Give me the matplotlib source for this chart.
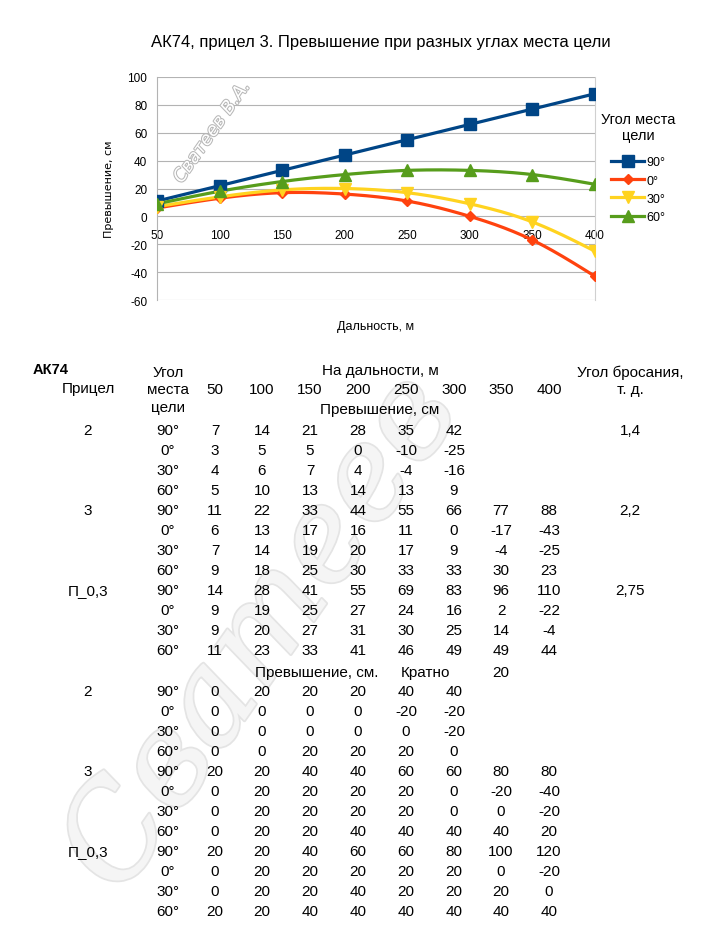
import numpy as np
import matplotlib
matplotlib.use("Agg")
import matplotlib.pyplot as plt
import matplotlib.patheffects as pe

plt.rcParams['font.family'] = ['Liberation Sans Narrow', 'Liberation Sans', 'DejaVu Sans']
plt.rcParams['axes.unicode_minus'] = False

# chart data: sight 3
dist = [50, 100, 150, 200, 250, 300, 350, 400]
angles = ["90°", "0°", "30°", "60°"]
h90 = [11, 22, 33, 44, 55, 66, 77, 88]
h0 = [6, 13, 17, 16, 11, 0, -17, -43]
h30 = [7, 14, 19, 20, 17, 9, -4, -25]
h60 = [9, 18, 25, 30, 33, 33, 30, 23]

# table: elevation, cm
sights = ["2", "3", "П_0,3"]
throw_angle = ["1,4", "2,2", "2,75"]
tab_s2 = [[7, 14, 21, 28, 35, 42],
          [3, 5, 5, 0, -10, -25],
          [4, 6, 7, 4, -4, -16],
          [5, 10, 13, 14, 13, 9]]
tab_s3 = [h90, h0, h30, h60]
tab_p = [[14, 28, 41, 55, 69, 83, 96, 110],
         [9, 19, 25, 27, 24, 16, 2, -22],
         [9, 20, 27, 31, 30, 25, 14, -4],
         [11, 23, 33, 41, 46, 49, 49, 44]]
# table: multiple of 20
k_s2 = [[0, 20, 20, 20, 40, 40],
        [0, 0, 0, 0, -20, -20],
        [0, 0, 0, 0, 0, -20],
        [0, 0, 20, 20, 20, 0]]
k_s3 = [[20, 20, 40, 40, 60, 60, 80, 80],
        [0, 20, 20, 20, 20, 0, -20, -40],
        [0, 20, 20, 20, 20, 0, 0, -20],
        [0, 20, 20, 40, 40, 40, 40, 20]]
k_p = [[20, 20, 40, 60, 60, 80, 100, 120],
       [0, 20, 20, 20, 20, 20, 0, -20],
       [0, 20, 20, 40, 20, 20, 20, 0],
       [20, 20, 40, 40, 40, 40, 40, 40]]


def spline(x, y, n=300):
    x = np.asarray(x, float)
    y = np.asarray(y, float)
    m = len(x)
    h = np.diff(x)
    A = np.zeros((m, m))
    b = np.zeros(m)
    A[0, 0] = A[-1, -1] = 1
    for i in range(1, m - 1):
        A[i, i - 1] = h[i - 1]
        A[i, i] = 2 * (h[i - 1] + h[i])
        A[i, i + 1] = h[i]
        b[i] = 6 * ((y[i + 1] - y[i]) / h[i] - (y[i] - y[i - 1]) / h[i - 1])
    M = np.linalg.solve(A, b)
    xs = np.linspace(x[0], x[-1], n)
    idx = np.clip(np.searchsorted(x, xs) - 1, 0, m - 2)
    x0, x1 = x[idx], x[idx + 1]
    hh = x1 - x0
    a = (x1 - xs) / hh
    c = (xs - x0) / hh
    ys = a * y[idx] + c * y[idx + 1] + ((a ** 3 - a) * M[idx] + (c ** 3 - c) * M[idx + 1]) * hh ** 2 / 6
    return xs, ys


W, H = 718, 945
fig = plt.figure(figsize=(W / 100, H / 100), dpi=100)


def px(x, y):
    return x / W, 1 - y / H


# big watermark behind the table
fig.text(*px(262, 635), "Сватеев", fontsize=92, rotation=55, style='italic',
         family='DejaVu Serif', color='#f5f5f5', ha='center', va='center', zorder=0,
         path_effects=[pe.withStroke(linewidth=2.5, foreground='#e4e4e4')])

ax = fig.add_axes([157 / W, 1 - 301 / H, (595 - 157) / W, (301 - 78) / H])
ax.set_xlim(50, 400)
ax.set_ylim(-60, 100)
ax.set_yticks(range(-60, 101, 20))
ax.set_xticks(dist)
ax.yaxis.grid(True, color='#b3b3b3', lw=0.8)
ax.set_axisbelow(True)
ax.spines['top'].set_visible(False)
ax.spines['bottom'].set_position(('data', 0))
ax.spines['bottom'].set_visible(False)
ax.spines['left'].set_color('#b3b3b3')
ax.spines['right'].set_color('#d0d0d0')
ax.tick_params(length=0, labelsize=8.5)
ax.tick_params(axis='y', pad=7)
ax.tick_params(axis='x', pad=9)

series = [h90, h0, h30, h60]
colors = ['#004586', '#ff420e', '#ffd320', '#579d1c']
markers = ['s', 'D', 'v', '^']
msizes = [8, 5.5, 8, 8]
for vals, col, mk, ms, lab in zip(series, colors, markers, msizes, angles):
    xs, ys = spline(dist, vals)
    ax.plot(xs, ys, color=col, lw=2.3, zorder=3)
    ax.plot(dist, vals, ls='none', marker=mk, ms=ms, color=col, zorder=4)
    ax.plot([], [], color=col, lw=2.3, marker=mk, ms=ms, label=lab)

ax.set_xlabel("Дальность, м", fontsize=9, labelpad=57)
ax.set_ylabel("Превышение, см", fontsize=8, family='DejaVu Sans', labelpad=10)
leg = ax.legend(loc='upper left', bbox_to_anchor=(1.0, 0.87), frameon=False,
                title="Угол места\nцели", fontsize=9, title_fontsize=10.5,
                handlelength=2.6, handletextpad=0.2, labelspacing=0.5,
                borderpad=0, alignment='center')
leg.get_title().set_multialignment('center')
leg._legend_box.sep = 10

fig.text(*px(381, 43), "АК74, прицел 3. Превышение при разных углах места цели",
         fontsize=12, ha='center', va='center')
fig.text(*px(212, 133), "Сватеев В.А.", fontsize=13, rotation=55, color='white',
         ha='center', va='center', family='DejaVu Sans', style='italic',
         path_effects=[pe.withStroke(linewidth=1.5, foreground='#b8b8b8')])

# table
fs = 11
colx = [215, 262, 310, 358, 406, 454, 501, 549]
sx, ax_ang, tx = 88, 168, 630


def t(x, y, s, **kw):
    kw.setdefault('ha', 'center')
    fig.text(*px(x, y), s, fontsize=fs, va='center', **kw)


fig.text(*px(33, 370), "АК74", fontsize=10.5, va='center', ha='left', weight='bold',
         family=['Liberation Sans', 'DejaVu Sans'])
t(sx, 389, "Прицел")
t(ax_ang, 373, "Угол")
t(ax_ang, 390, "места")
t(ax_ang, 408, "цели")
t(380, 371, "На дальности, м")
for x, d in zip(colx, dist):
    t(x, 390, str(d))
t(380, 410, "Превышение, см")
t(tx, 373, "Угол бросания,")
t(tx, 390, "т. д.")

y0 = 431
blocks = [tab_s2, tab_s3, tab_p]
for bi, blk in enumerate(blocks):
    for ri, row in enumerate(blk):
        y = y0 + (bi * 4 + ri) * 20
        if ri == 0:
            t(sx, y, sights[bi])
            t(tx, y, throw_angle[bi])
        t(ax_ang, y, angles[ri])
        for x, v in zip(colx, row):
            t(x, y, str(v))

t(317, 673, "Превышение, см.")
t(425, 673, "Кратно")
t(colx[6], 673, "20")
y0 = 692
blocks = [k_s2, k_s3, k_p]
for bi, blk in enumerate(blocks):
    for ri, row in enumerate(blk):
        y = y0 + (bi * 4 + ri) * 20
        if ri == 0:
            t(sx, y, sights[bi])
        t(ax_ang, y, angles[ri])
        for x, v in zip(colx, row):
            t(x, y, str(v))

fig.savefig("out.png", dpi=100)
